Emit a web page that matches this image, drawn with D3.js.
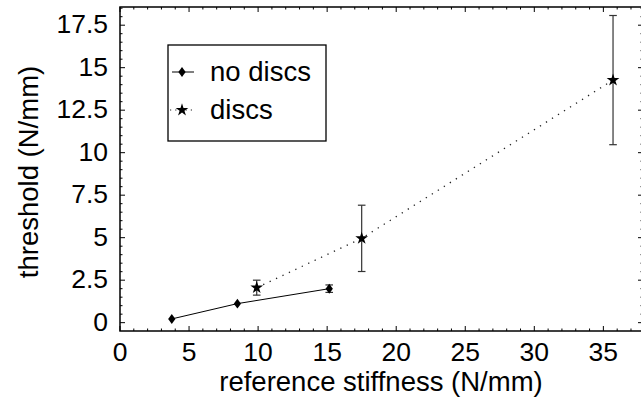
<!DOCTYPE html>
<html>
<head>
<meta charset="utf-8">
<script src="https://cdn.jsdelivr.net/npm/d3@7/dist/d3.min.js"></script>
<style>
  html, body { margin: 0; padding: 0; background: #fff; }
  svg { display: block; }
  text { font-family: "Liberation Sans", Arial, Helvetica, sans-serif; fill: #000; }
</style>
</head>
<body>
<svg id="chart" width="641" height="400"></svg>
<script>
// Series: threshold vs reference stiffness
const noDiscsX   = [3.75, 8.5, 15.15];
const noDiscsY   = [0.22, 1.12, 2.0];
const noDiscsErr = [0, 0, 0.22];

const discsX   = [9.9, 17.5, 35.7];
const discsY   = [2.06, 4.96, 14.27];
const discsErr = [0.44, 1.95, 3.8];

const xTicks = [0, 5, 10, 15, 20, 25, 30, 35];
const yTicks = [0, 2.5, 5, 7.5, 10, 12.5, 15, 17.5];
const yTickLabels = ["0", "2.5", "5", "7.5", "10", "12.5", "15", "17.5"];
const legendLabels = ["no discs", "discs"];

const svg = d3.select("#chart");
const plotL = 120, plotR = 643, plotT = 7, plotB = 331;
const tickFont = 26.5, labelFont = 27.5;

const x = d3.scaleLinear().domain([0, 37.87]).range([plotL, plotR]);
const y = d3.scaleLinear().domain([-0.49, 18.57]).range([plotB, plotT]);

const xMinor = d3.range(0, 38, 1);
const yMinor = d3.range(0, 18.51, 0.5);

// Frame
svg.append("rect")
  .attr("x", plotL).attr("y", plotT)
  .attr("width", plotR - plotL).attr("height", plotB - plotT)
  .attr("fill", "none").attr("stroke", "#000").attr("stroke-width", 1.5);

// Inward ticks on all four sides
const tickG = svg.append("g").attr("stroke", "#000").attr("stroke-width", 1);
function isMajorX(v) { return xTicks.some(t => Math.abs(t - v) < 1e-6); }
function isMajorY(v) { return yTicks.some(t => Math.abs(t - v) < 1e-6); }
xMinor.forEach(v => {
  const len = isMajorX(v) ? 5 : 2.5;
  const px = x(v);
  tickG.append("line").attr("x1", px).attr("x2", px).attr("y1", plotB).attr("y2", plotB - len);
  tickG.append("line").attr("x1", px).attr("x2", px).attr("y1", plotT).attr("y2", plotT + len);
});
yMinor.forEach(v => {
  const len = isMajorY(v) ? 5 : 2.5;
  const py = y(v);
  tickG.append("line").attr("x1", plotL).attr("x2", plotL + len).attr("y1", py).attr("y2", py);
  tickG.append("line").attr("x1", plotR).attr("x2", plotR - len).attr("y1", py).attr("y2", py);
});

// Tick labels
svg.append("g").selectAll("text").data(xTicks).join("text")
  .attr("x", d => x(d)).attr("y", 360.5)
  .attr("text-anchor", "middle").attr("font-size", tickFont)
  .text(d => d);
svg.append("g").selectAll("text").data(yTicks).join("text")
  .attr("x", 108).attr("y", d => y(d) + 8)
  .attr("text-anchor", "end").attr("font-size", tickFont)
  .text((d, i) => yTickLabels[i]);

// Axis titles
svg.append("text")
  .attr("x", 381).attr("y", 391)
  .attr("text-anchor", "middle").attr("font-size", labelFont)
  .text("reference stiffness (N/mm)");
svg.append("text")
  .attr("transform", `translate(38,172) rotate(-90)`)
  .attr("text-anchor", "middle").attr("font-size", labelFont)
  .text("threshold (N/mm)");

// Marker shapes
const diamond = {
  draw(ctx, size) {
    const h = Math.sqrt(size) * 0.72, w = h * 0.73;
    ctx.moveTo(0, -h); ctx.lineTo(w, 0); ctx.lineTo(0, h); ctx.lineTo(-w, 0); ctx.closePath();
  }
};
const diamondPath = d3.symbol().type(diamond).size(48)();
const starPath = d3.symbol().type(d3.symbolStar).size(50)();

const noDiscs = noDiscsX.map((v, i) => ({ x: v, y: noDiscsY[i], e: noDiscsErr[i] }));
const discs = discsX.map((v, i) => ({ x: v, y: discsY[i], e: discsErr[i] }));

const line = d3.line().x(d => x(d.x)).y(d => y(d.y));

// Connecting lines
svg.append("path").datum(noDiscs).attr("d", line)
  .attr("fill", "none").attr("stroke", "#000").attr("stroke-width", 1);
svg.append("path").datum(discs).attr("d", line)
  .attr("fill", "none").attr("stroke", "#222").attr("stroke-width", 1.3)
  .attr("stroke-dasharray", "1.3,5.8");

// Error bars
function errorBars(data) {
  const g = svg.append("g").attr("stroke", "#333").attr("stroke-width", 1.2);
  data.filter(d => d.e > 0).forEach(d => {
    const px = x(d.x), cap = 3.8;
    g.append("line").attr("x1", px).attr("x2", px).attr("y1", y(d.y - d.e)).attr("y2", y(d.y + d.e));
    g.append("line").attr("x1", px - cap).attr("x2", px + cap).attr("y1", y(d.y - d.e)).attr("y2", y(d.y - d.e));
    g.append("line").attr("x1", px - cap).attr("x2", px + cap).attr("y1", y(d.y + d.e)).attr("y2", y(d.y + d.e));
  });
}
errorBars(noDiscs);
errorBars(discs);

// Markers
svg.append("g").selectAll("path").data(noDiscs).join("path")
  .attr("d", diamondPath)
  .attr("transform", d => `translate(${x(d.x)},${y(d.y)})`)
  .attr("fill", "#000");
svg.append("g").selectAll("path").data(discs).join("path")
  .attr("d", starPath)
  .attr("transform", d => `translate(${x(d.x)},${y(d.y)})`)
  .attr("fill", "#000");

// Legend
const lg = svg.append("g");
lg.append("rect").attr("x", 168).attr("y", 45).attr("width", 158).attr("height", 96)
  .attr("fill", "#fff").attr("stroke", "#000").attr("stroke-width", 1.3);
const rows = [72, 110];
lg.append("line").attr("x1", 172).attr("x2", 194).attr("y1", rows[0]).attr("y2", rows[0])
  .attr("stroke", "#000").attr("stroke-width", 1);
lg.append("path").attr("d", diamondPath).attr("transform", `translate(182,${rows[0]})`).attr("fill", "#000");
lg.append("line").attr("x1", 170).attr("x2", 196).attr("y1", rows[1]).attr("y2", rows[1])
  .attr("stroke", "#222").attr("stroke-width", 1.2).attr("stroke-dasharray", "1.2,4");
lg.append("path").attr("d", starPath).attr("transform", `translate(182,${rows[1]})`).attr("fill", "#000");
lg.selectAll("text.lab").data(legendLabels).join("text")
  .attr("class", "lab")
  .attr("x", 210).attr("y", (d, i) => rows[i] + 9)
  .attr("font-size", labelFont)
  .text(d => d);
</script>
</body>
</html>
